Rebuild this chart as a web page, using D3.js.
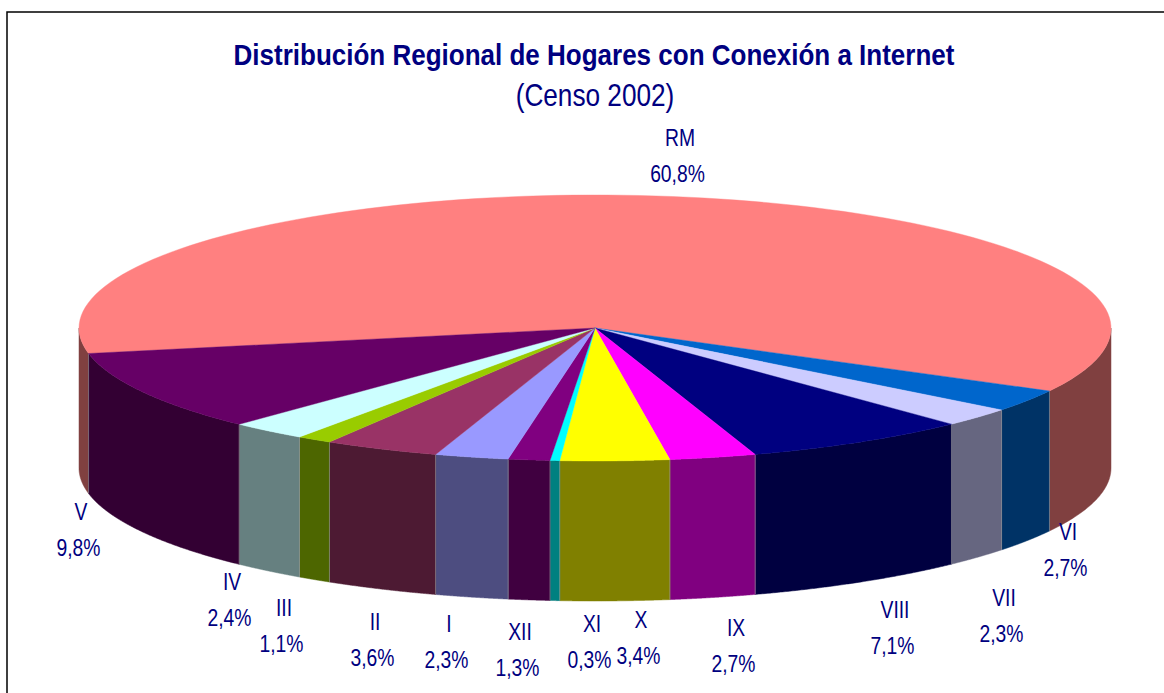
<!DOCTYPE html>
<html><head><meta charset="utf-8">
<style>html,body{margin:0;padding:0;background:#fff;overflow:hidden}svg{display:block}</style>
<script src="https://cdn.jsdelivr.net/npm/d3@7"></script></head>
<body><svg id="c" width="1164" height="693"></svg>
<script>
const regions = ["RM","VI","VII","VIII","IX","X","XI","XII","I","II","III","IV","V"];
const shares = [60.8,2.7,2.3,7.1,2.7,3.4,0.3,1.3,2.3,3.6,1.1,2.4,9.8];
const topColors = ["#FF8080","#0066CC","#CCCCFF","#000080","#FF00FF","#FFFF00","#00FFFF","#800080","#9999FF","#993366","#99CC00","#CCFFFF","#660066"];
const shareLabels = ["60,8%","2,7%","2,3%","7,1%","2,7%","3,4%","0,3%","1,3%","2,3%","3,6%","1,1%","2,4%","9,8%"];
const titleText = "Distribución Regional de Hogares con Conexión a Internet";
const subtitleText = "(Censo 2002)";

// layout, kept apart from the data
const labelCentres = [[680,146],[1068,540],[1004,606],[895,618],[736,636],[641,628],[592,632],[520,640],[449,632],[375,630],[284,616],[232,590],[81,520]];
const startDeg = 258.95, depth = 140;
const FONT = "'Liberation Sans',Arial,sans-serif";
const NAVY = "#000080";

const svg = d3.select("#c");
const x = d3.scaleLinear().domain([-1,1]).range([79,1111]);
const y = d3.scaleLinear().domain([-1,1]).range([195,461]);
const tau = 2*Math.PI, rad = Math.PI/180;

svg.append("rect").attr("x",7).attr("y",12).attr("width",1300).attr("height",900)
  .attr("fill","#fff").attr("stroke","#000").attr("stroke-width",1.5);

const pie = d3.pie().sort(null).value(d=>d)
  .startAngle(startDeg*rad).endAngle(startDeg*rad+tau);
const arcs = pie(shares);
// d3 pie angle: 0 = north, clockwise
const px = a => x(Math.sin(a));
const py = a => y(-Math.cos(a));
const sample = (a0,a1) => d3.range(0,121).map(i => a0+(a1-a0)*i/120);
const line = d3.line();
const sideColor = c => { const r=d3.rgb(c); return d3.rgb(r.r/2,r.g/2,r.b/2).formatHex(); };

// side walls: only the parts on the front half (pie angle between 90° and 270°, modulo 360°)
const sides = svg.append("g");
arcs.forEach((d,i)=>{
  [0,tau].forEach(shift=>{
    const a0 = Math.max(d.startAngle-shift, Math.PI/2);
    const a1 = Math.min(d.endAngle-shift, 1.5*Math.PI);
    if (a1<=a0) return;
    const s = sample(a0,a1);
    const pts = s.map(a=>[px(a),py(a)]).concat(s.slice().reverse().map(a=>[px(a),py(a)+depth]));
    sides.append("path").attr("d",line(pts)+"Z").attr("fill",sideColor(topColors[i]))
      .attr("stroke",sideColor(topColors[i])).attr("stroke-width",.5);
  });
});
// faint seams between wall panels
arcs.forEach(d=>{
  let a = d.endAngle % tau;
  if (a>Math.PI/2 && a<1.5*Math.PI)
    sides.append("line").attr("x1",px(a)).attr("x2",px(a)).attr("y1",py(a)).attr("y2",py(a)+depth)
      .attr("stroke","#9a9a9a").attr("stroke-width",.6);
});

// top faces
const tops = svg.append("g");
arcs.forEach((d,i)=>{
  const pts = [[x(0),y(0)]].concat(sample(d.startAngle,d.endAngle).map(a=>[px(a),py(a)]));
  tops.append("path").attr("d",line(pts)+"Z").attr("fill",topColors[i])
    .attr("stroke",topColors[i]).attr("stroke-width",.4);
});

// narrow text: horizontally condensed around its centre
const narrow = (parent,cx,by,size,sx,txt,bold) => parent.append("text")
  .attr("transform",`translate(${cx},${by}) scale(${sx},1)`)
  .attr("text-anchor","middle").attr("font-family",FONT).attr("font-size",size)
  .attr("font-weight",bold?"bold":"normal").attr("fill",NAVY).text(txt);

narrow(svg,594,65,29,0.897,titleText,true);
narrow(svg,595,106,31,0.845,subtitleText,false);

const labels = svg.append("g");
regions.forEach((r,i)=>{
  const [cx,by] = labelCentres[i];
  narrow(labels,cx,by,24,0.805,r,false);
  narrow(labels,cx-2.5,by+36,24,0.805,shareLabels[i],false);
});
</script></body></html>
